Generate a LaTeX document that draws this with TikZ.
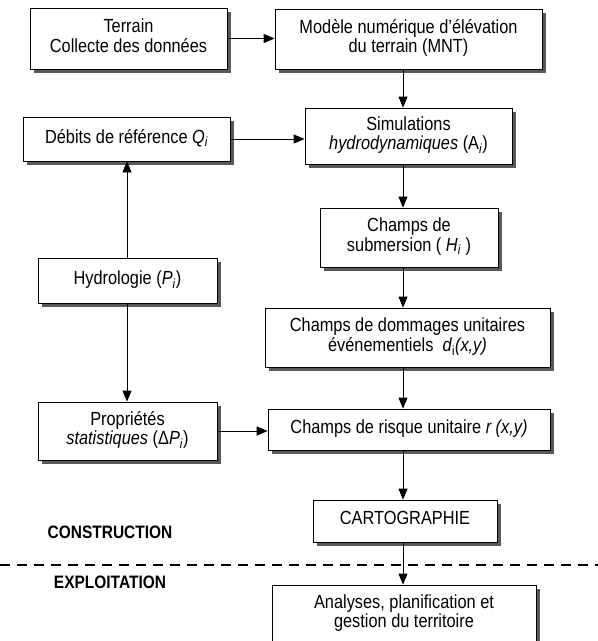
\documentclass[tikz,border=0pt]{standalone}
\usepackage{fontspec}
\setmainfont{Liberation Sans}
\usepackage{graphicx}
\usepackage{tikz}
\usetikzlibrary{arrows.meta, shadows}
\newcommand{\boxtext}[1]{\scalebox{0.86}[1]{\begin{tabular}{@{}c@{}}#1\end{tabular}}}

\begin{document}
\begin{tikzpicture}[x=1pt, y=-1pt]
\tikzstyle{box} = [draw, fill=white, line width=0.8pt, align=center, inner sep=2pt, font=\fontsize{19}{19.5}\selectfont, drop shadow={shadow xshift=3.5pt, shadow yshift=-3.5pt, fill=black!65, opacity=1}]
\tikzstyle{arrow} = [-{Triangle[length=11pt, width=9pt]}, line width=0.8pt]
\tikzstyle{phase} = [font=\fontsize{18}{19}\selectfont\bfseries]
\tikzstyle{border} = [line width=1.6pt, dash pattern=on 10pt off 7pt]

\useasboundingbox (0,0) rectangle (598,641);

\coordinate (col) at (403,0);
\coordinate (lcol) at (127,0);

% right column
\node [box, minimum width=197pt, minimum height=61pt] (terrain) at (128.5,38.5) {\boxtext{Terrain\\Collecte des données}};
\node [box, minimum width=267pt, minimum height=60pt] (mnt) at (408.5,39) {\boxtext{Modèle numérique d’élévation\\du terrain (MNT)}};
\node [box, minimum width=207pt, minimum height=56pt] (sim) at (408.5,136) {\boxtext{Simulations\\\textit{hydrodynamiques} (A\textsubscript{\textit{i}})}};
\node [box, minimum width=178pt, minimum height=59pt] (sub) at (409,237.5) {\boxtext{Champs de\\submersion ( \textit{H}\textsubscript{\textit{i}} )}};
\node [box, minimum width=285pt, minimum height=59pt] (dom) at (407.5,337.5) {\boxtext{Champs de dommages unitaires\\événementiels \ \textit{d}\textsubscript{i}\textit{(x,y)}}};
\node [box, minimum width=282pt, minimum height=41pt] (risque) at (409,429.5) {\boxtext{Champs de risque unitaire \textit{r (x,y)}}};
\node [box, minimum width=184pt, minimum height=42pt] (carto) at (405,521) {\boxtext{CARTOGRAPHIE}};
\node [box, minimum width=264pt, minimum height=58pt] (analyses) at (404,614) {\boxtext{Analyses, planification et\\gestion du territoire}};

% left column
\node [box, minimum width=207pt, minimum height=44pt] (debits) at (126.5,139) {\boxtext{Débits de référence \textit{Q\textsubscript{i}}}};
\node [box, minimum width=179pt, minimum height=45pt] (hydro) at (127.5,280.5) {\boxtext{Hydrologie (\textit{P}\textsubscript{\textit{i}})}};
\node [box, minimum width=179pt, minimum height=58pt] (prop) at (127.5,431) {\boxtext{Propriétés\\\textit{statistiques} (Δ\textit{P}\textsubscript{\textit{i}})}};

\node [phase] (construction) at (110,535) {\boxtext{CONSTRUCTION}};
\node [phase] (exploitation) at (110,585) {\boxtext{EXPLOITATION}};

\draw [border] (0,565)--(598,565);

\draw [arrow] (terrain.east) -- (terrain.east -| mnt.west);
\draw [arrow] (mnt.south -| col) -- (sim.north -| col);
\draw [arrow] (sim.south -| col) -- (sub.north -| col);
\draw [arrow] (sub.south -| col) -- (dom.north -| col);
\draw [arrow] (dom.south -| col) -- (risque.north -| col);
\draw [arrow] (risque.south -| col) -- (carto.north -| col);
\draw [arrow] (carto.south -| col) -- (analyses.north -| col);
\draw [arrow] (debits.east) -- (debits.east -| sim.west);
\draw [arrow] (hydro.north -| lcol) -- (debits.south -| lcol);
\draw [arrow] (hydro.south -| lcol) -- (prop.north -| lcol);
\draw [arrow] (prop.east) -- (prop.east -| risque.west);
\end{tikzpicture}
\end{document}
